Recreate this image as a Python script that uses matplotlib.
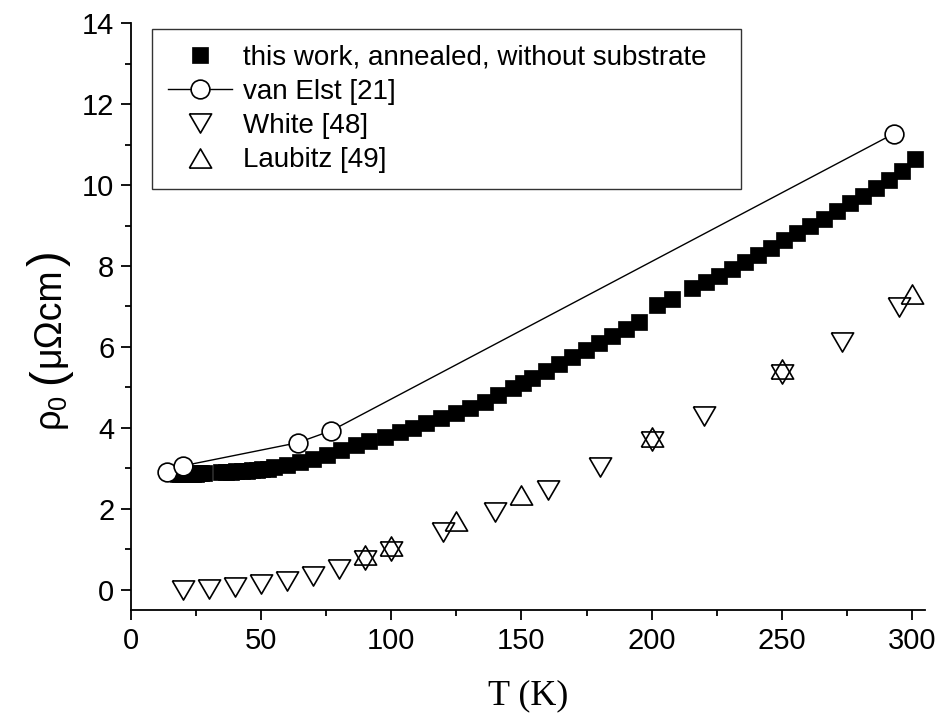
import numpy as np
import matplotlib.pyplot as plt
from matplotlib.ticker import MultipleLocator

plt.rcParams['font.family'] = ['Liberation Sans', 'DejaVu Sans']
plt.rcParams['mathtext.fontset'] = 'custom'
plt.rcParams['mathtext.rm'] = 'Liberation Sans'
plt.rcParams['mathtext.it'] = 'Liberation Sans'

# this work, annealed, without substrate
t_work = [18, 19, 20, 21, 22, 23, 24, 25, 26, 27, 28,
          34.5, 36.5, 38.5, 40.5, 42.5, 44.5, 46.5, 48.5, 50.5, 52.5,
          55, 60, 65, 70, 75.2, 80.7, 86.5, 91.6, 97.4, 103.2, 108.3, 113.4,
          119.2, 124.9, 130.1, 135.8, 140.9, 146.6, 150.5, 154.2, 159.6, 164.6,
          169.5, 174.9, 179.9, 184.9, 190.3, 195.2, 202.1, 207.9, 215.6, 221,
          226, 231, 236, 241, 246, 251, 256, 261, 266, 271, 276, 281, 286, 291,
          296, 301]
rho_work = [2.85, 2.85, 2.86, 2.86, 2.86, 2.87, 2.87, 2.87, 2.88, 2.88, 2.88,
            2.90, 2.91, 2.91, 2.92, 2.93, 2.94, 2.95, 2.96, 2.97, 2.99,
            3.02, 3.08, 3.15, 3.23, 3.33, 3.45, 3.58, 3.68, 3.78, 3.9, 4.0, 4.12,
            4.25, 4.37, 4.49, 4.64, 4.81, 4.99, 5.1, 5.22, 5.4, 5.57,
            5.75, 5.93, 6.1, 6.28, 6.45, 6.62, 7.04, 7.18, 7.45, 7.6,
            7.76, 7.93, 8.1, 8.27, 8.45, 8.63, 8.81, 8.99, 9.17, 9.36, 9.55, 9.74,
            9.93, 10.13, 10.35, 10.65]

# van Elst [21]
t_elst = [14, 20, 64, 77, 293]
rho_elst = [2.9, 3.06, 3.63, 3.93, 11.27]

# White [48]
t_white = [20, 30, 40, 50, 60, 70, 80, 90, 100, 120, 140, 160, 180, 200,
           220, 250, 273, 295]
rho_white = [-0.01, 0.01, 0.06, 0.13, 0.22, 0.34, 0.51, 0.72, 0.96, 1.42,
             1.93, 2.47, 3.04, 3.67, 4.3, 5.33, 6.13, 6.98]

# Laubitz [49]
t_laub = [90, 100, 125, 150, 200, 250, 300]
rho_laub = [0.86, 1.08, 1.7, 2.35, 3.78, 5.45, 7.3]

# slightly flattened open triangles
tri_down = [(-1, 0.86), (1, 0.86), (0, -0.86), (-1, 0.86)]
tri_up = [(-1, -0.86), (1, -0.86), (0, 0.86), (-1, -0.86)]

fig = plt.figure(figsize=(9.42, 7.26), dpi=100)
ax = fig.add_axes([0.139, 0.160, 0.843, 0.808])

ax.plot(t_work, rho_work, 's', color='black', ms=11.5, mec='black', mew=0.5,
        label='this work, annealed, without substrate', zorder=2)
ax.plot(t_elst, rho_elst, '-o', color='black', lw=1.0, ms=13.5, mfc='white',
        mec='black', mew=1.2, label='van Elst [21]', zorder=3)
ax.plot(t_white, rho_white, marker=tri_down, ms=16, mfc='none', mec='black',
        mew=1.2, ls='none', label='White [48]', zorder=4)
ax.plot(t_laub, rho_laub, marker=tri_up, ms=16, mfc='none', mec='black',
        mew=1.2, ls='none', label='Laubitz [49]', zorder=4)

ax.set_xlim(0, 305)
ax.set_ylim(-0.5, 14)
ax.xaxis.set_major_locator(MultipleLocator(50))
ax.xaxis.set_minor_locator(MultipleLocator(25))
ax.yaxis.set_major_locator(MultipleLocator(2))
ax.yaxis.set_minor_locator(MultipleLocator(1))

for s in ['top', 'right']:
    ax.spines[s].set_visible(False)
for s in ['left', 'bottom']:
    ax.spines[s].set_linewidth(1.3)
ax.tick_params(which='major', direction='out', length=7, width=1.3,
               labelsize=21, pad=5)
ax.tick_params(which='minor', direction='out', length=4, width=1.3)

ax.set_xlabel('T (K)', family='Liberation Serif', fontsize=26, labelpad=18)

# y label built from pieces so the brackets can be larger than the text
lab_x = -0.103
t1 = ax.text(lab_x + 0.005, 0.305, r'$\rho_0$', rotation=90, fontsize=26,
             ha='center', va='bottom', transform=ax.transAxes)
t2 = ax.annotate('(', xy=(lab_x, 1.0), xycoords=(ax.transAxes, t1),
                 xytext=(0, 8), textcoords='offset points', rotation=90,
                 fontsize=34, ha='center', va='bottom')
t3 = ax.annotate('μΩcm', xy=(lab_x, 1.0), xycoords=(ax.transAxes, t2),
                 xytext=(0, 1), textcoords='offset points', rotation=90,
                 fontsize=27, ha='center', va='bottom')
t4 = ax.annotate(')', xy=(lab_x, 1.0), xycoords=(ax.transAxes, t3),
                 xytext=(0, 1), textcoords='offset points', rotation=90,
                 fontsize=34, ha='center', va='bottom')

leg = ax.legend(loc='upper left', bbox_to_anchor=(0.027, 0.0, 0.741, 0.99),
                mode='expand', fontsize=20, frameon=True, fancybox=False,
                handlelength=2.3, handletextpad=0.4, labelspacing=0.3,
                borderaxespad=0, borderpad=0.55)
leg.get_frame().set_edgecolor('black')
leg.get_frame().set_linewidth(1.0)

plt.savefig('out.png', dpi=100)
